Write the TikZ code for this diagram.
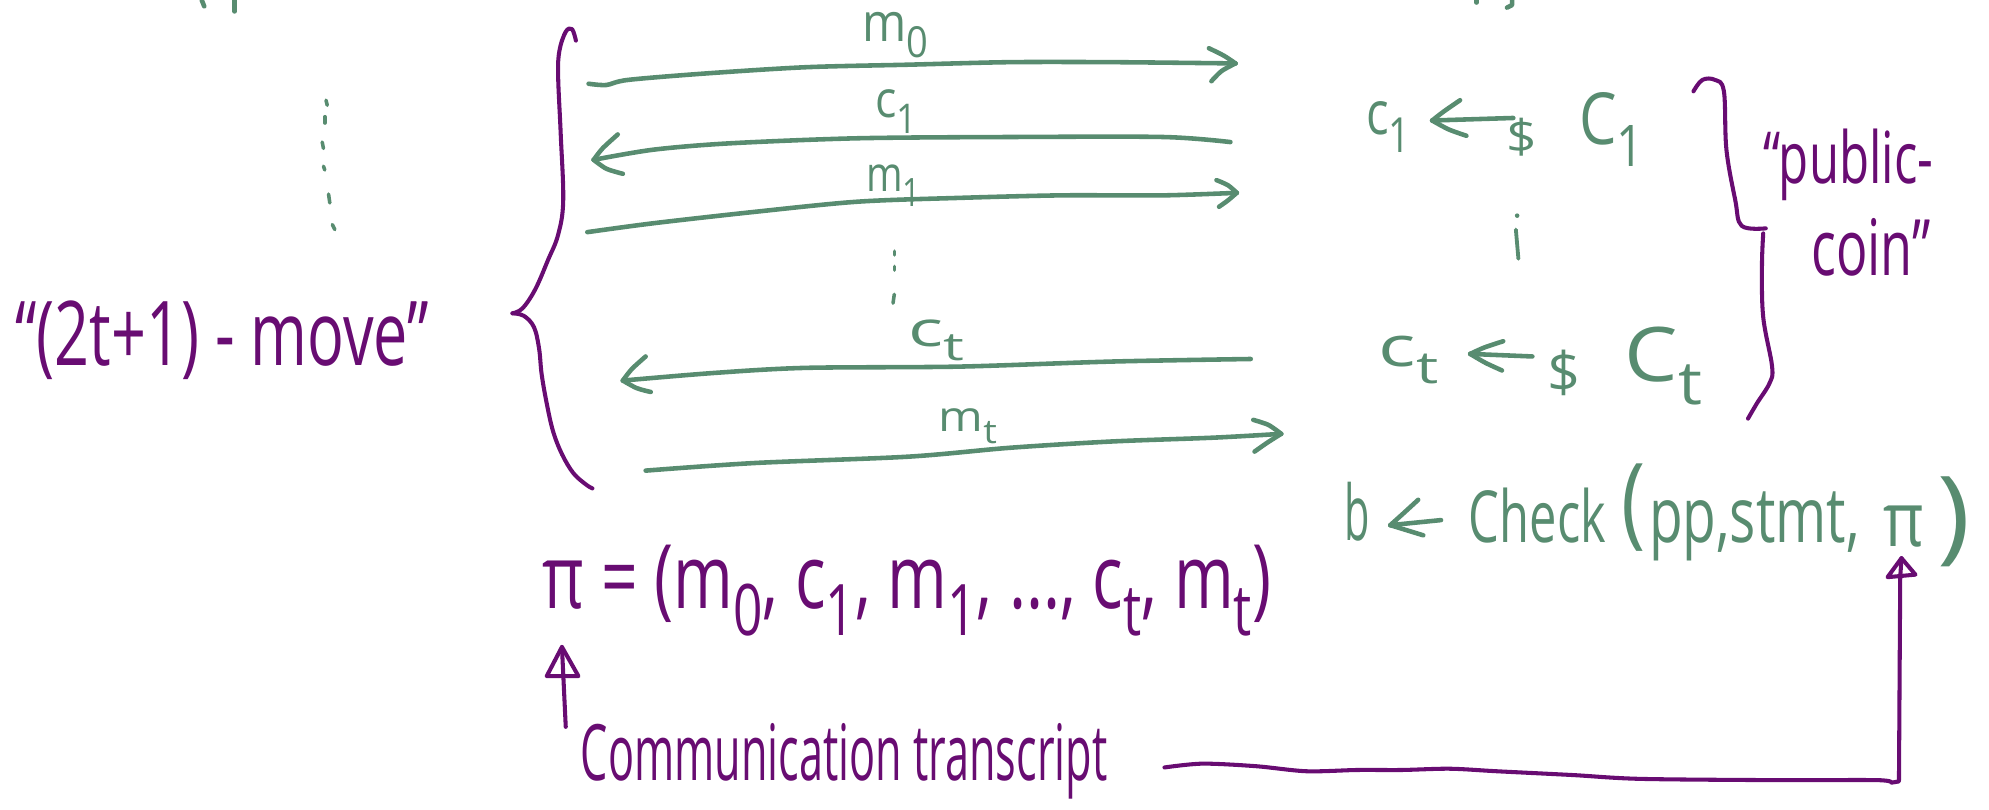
\documentclass[tikz,border=0pt]{standalone}
\usepackage{fontspec}
\usepackage{graphicx}
\newfontfamily\hand{Open Sans}
\definecolor{inkgreen}{RGB}{88,140,112}
\definecolor{inkpurple}{RGB}{104,12,114}
\newlength\upx
\setlength\upx{0.5pt}
% word fitted to a width and a height above the baseline
\newcommand\hw[3]{\resizebox{#1\upx}{#2\upx}{\hand #3}}
% glyph fitted to a width and a total height
\newcommand\hwt[3]{\resizebox*{#1\upx}{#2\upx}{\hand #3}}
% large lowered index, as written by hand
\newcommand\idx[1]{\raisebox{-0.3em}{\scalebox{0.8}{#1}}}
\begin{document}
\begin{tikzpicture}[x=0.5pt,y=-0.5pt,
  gline/.style={draw=inkgreen,line width=1.8pt,line cap=round,line join=round},
  pline/.style={draw=inkpurple,line width=1.6pt,line cap=round,line join=round},
  gword/.style={text=inkgreen,inner sep=0pt,outer sep=0pt,anchor=base west},
  pword/.style={text=inkpurple,inner sep=0pt,outer sep=0pt,anchor=base west},
  gsym/.style={text=inkgreen,inner sep=0pt,outer sep=0pt,anchor=center},
]
\useasboundingbox (0,0) rectangle (1568,638);

% strokes cut by the top edge
\draw[gline] (159,0) -- (161,5);
\draw[gline] (185,0) -- (185,9);
\draw[gline] (1164,0) -- (1164,2);
\draw[gline] (1192,0) -- (1192,4) -- (1188,6);

% vertical ellipsis on the left
\foreach \xa/\ya/\xb/\yb in {257/79/258/83, 256/92/256/97, 254/112/255/117,
                             255/131/256/134, 259/153/260/160, 262/177/264/181}
  \draw[gline,line width=1.4pt] (\xa,\ya) -- (\xb,\yb);

% label of the whole exchange
\node[pword] (moves) at (12,288) {\hw{326}{51}{“(2t+1) - move”}};

% left brace
\draw[pline] plot[smooth,tension=0.6] coordinates {(454,32) (451,23) (446,25) (441,40) (440,60)
  (442,105) (444,158) (440,185) (432,205) (422,228) (412,243) (404,247)};
\draw[pline] plot[smooth,tension=0.6] coordinates {(404,247) (413,249) (421,258) (425,275) (427,295)
  (431,318) (436,340) (443,358) (452,373) (462,382) (467,385)};

% messages
\draw[gline] plot[smooth,tension=0.5] coordinates {(464,66) (478,67) (495,63) (555,58) (635,53)
  (716,51) (796,49) (877,49) (974,50)};
\draw[gline] plot[smooth] coordinates {(953,38) (965,44) (974,50)};
\draw[gline] plot[smooth] coordinates {(974,50) (963,56) (955,64)};
\node[gword] (lm0) at (680,33) {\hw{52}{23}{m\idx{0}}};

\draw[gline] plot[smooth,tension=0.5] coordinates {(970,112) (917,108) (796,108) (676,109)
  (575,113) (515,118) (468,126)};
\draw[gline] plot[smooth] coordinates {(487,106) (475,117) (468,126)};
\draw[gline] plot[smooth] coordinates {(468,126) (478,133) (491,137)};
\node[gword] (lc1) at (690,93) {\hw{33}{22}{c\idx{1}}};

\draw[gline] plot[smooth,tension=0.5] coordinates {(463,183) (515,176) (595,167) (676,159)
  (756,156) (837,154) (917,154) (975,152)};
\draw[gline] plot[smooth] coordinates {(959,142) (968,146) (975,152)};
\draw[gline] plot[smooth] coordinates {(975,152) (968,158) (961,163)};
\node[gword] (lm1) at (683,151) {\hw{43}{21}{m\idx{1}}};

\draw[gline,line width=1.4pt] (705,198) -- (705,201);
\draw[gline,line width=1.4pt] (705,210) -- (705,213);
\draw[gline,line width=1.4pt] (705,232) -- (704,239);

\draw[gline] plot[smooth,tension=0.5] coordinates {(986,283) (877,285) (756,289) (635,290)
  (563,294) (491,300)};
\draw[gline] plot[smooth] coordinates {(509,281) (498,291) (491,300)};
\draw[gline] plot[smooth] coordinates {(491,300) (502,306) (513,309)};
\node[gword] (lct) at (716,273) {\hw{44}{21}{c\idx{t}}};

\draw[gline] plot[smooth,tension=0.5] coordinates {(509,371) (595,365) (716,360) (796,353)
  (877,348) (957,345) (1010,342)};
\draw[gline] plot[smooth] coordinates {(988,331) (1000,335) (1010,342)};
\draw[gline] plot[smooth] coordinates {(1010,342) (999,349) (989,356)};
\node[gword] (lmt) at (740,340) {\hw{46}{18}{m\idx{t}}};

% sampled challenges
\node[gword] (c1) at (1077,106) {\hw{35}{26}{c\idx{1}}};
\draw[gline] (1193,93) -- (1129,95);
\draw[gline] plot[smooth] coordinates {(1151,79) (1138,88) (1129,95)};
\draw[gline] plot[smooth] coordinates {(1129,95) (1142,102) (1156,107)};
\node[gsym] (s1) at (1200,108) {\hwt{24}{30}{\$}};
\node[gword] (C1) at (1245,114) {\hw{51}{41}{C\idx{1}}};

\fill[inkgreen] (1196,170) circle (1.8);
\draw[gline,line width=1.5pt] (1195,181) -- (1197,204);

\node[gword] (ct) at (1087,289) {\hw{47}{24}{c\idx{t}}};
\draw[gline] (1208,281) -- (1159,279);
\draw[gline] plot[smooth] coordinates {(1185,269) (1170,274) (1159,279)};
\draw[gline] plot[smooth] coordinates {(1159,279) (1171,286) (1184,292)};
\node[gsym] (s2) at (1233,294) {\hwt{26}{36}{\$}};
\node[gword] (Ct) at (1281,301) {\hw{61}{43}{C\idx{t}}};

% right brace
\draw[pline] plot[smooth,tension=0.6] coordinates {(1335,72) (1342,63) (1352,63) (1359,72)
  (1361,118) (1368,158) (1373,178) (1392,180)};
\draw[pline] plot[smooth,tension=0.6] coordinates {(1390,184) (1389,210) (1390,250) (1397,289)
  (1395,302) (1385,318) (1378,330)};
\node[pword] (pub) at (1390,145) {\hw{134}{43}{“public-}};
\node[pword] (coin) at (1428,217) {\hw{94}{45}{coin”}};

% verifier's decision
\node[gword] (b) at (1060,426) {\hw{20}{46}{b}};
\draw[gline] (1136,410) -- (1096,414);
\draw[gline] plot[smooth] coordinates {(1118,394) (1106,405) (1096,414)};
\draw[gline] plot[smooth] coordinates {(1096,414) (1109,418) (1122,422)};
\node[gword] (check) at (1158,428) {\hw{108}{43}{Check}};
\node[gsym] (lp) at (1288,400) {\hwt{19}{69}{(}};
\node[gword] (args) at (1300,428) {\hw{166}{40}{pp,stmt,}};
\node[gword] (pi) at (1485,431) {\hw{32}{32}{π}};
\node[gsym] (rp) at (1540,411) {\hwt{26}{71}{)}};

% transcript
\node[pword] (tr) at (428,480) {\hw{574}{50}{π = (m\idx{0}, c\idx{1}, m\idx{1}, ..., c\idx{t}, m\idx{t})}};
\node[pword] (comm) at (458,615) {\hw{415}{45}{Communication transcript}};

% pointer from the words to the tuple
\coordinate (up1) at (446,573);
\coordinate (tip1) at (443,510);
\draw[pline] (up1) -- (tip1);
\draw[pline] (431,533) -- (tip1) -- (456,533) -- cycle;

% pointer from the words to the argument of Check
\coordinate (w0) at (918,605);
\coordinate (tip2) at (1499,440);
\draw[pline] plot[smooth,tension=0.5] coordinates {(w0) (948,602) (990,604) (1030,608) (1070,607)
  (1105,607) (1143,606) (1180,608) (1240,611) (1293,614) (1400,615) (1480,615) (1491,617)}
  -- (1497,616) -- (1498,455) -- (tip2);
\draw[pline] (1488,455) -- (tip2) -- (1510,453) -- cycle;
\end{tikzpicture}
\end{document}
